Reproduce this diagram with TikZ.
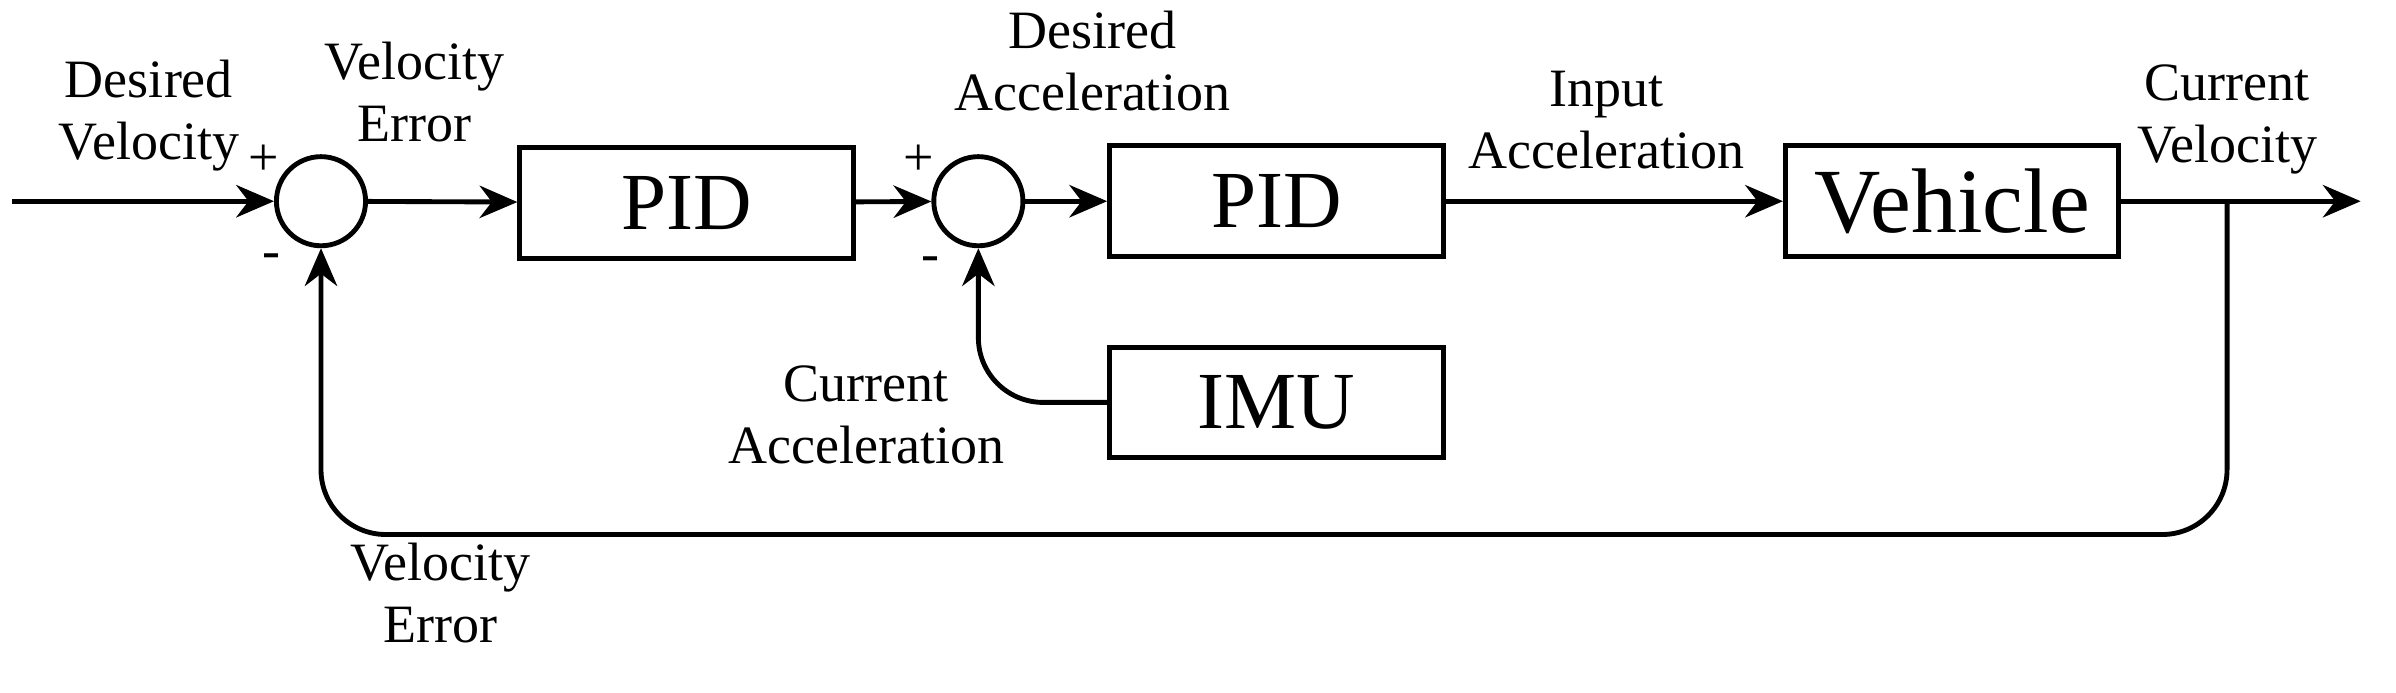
\documentclass[tikz,border=0pt]{standalone}
\usepackage{fontspec}
\setmainfont{Liberation Serif}
\usetikzlibrary{arrows.meta}
\begin{document}
\begin{tikzpicture}[x=0.01cm,y=-0.01cm,
  blk/.style={draw,line width=0.9pt,minimum width=2.17cm,minimum height=0.72cm,inner sep=0pt,font=\fontsize{15}{17}\selectfont},
  sum/.style={draw,circle,line width=0.9pt,minimum size=0.58cm,inner sep=0pt},
  lbl/.style={align=center,font=\fontsize{10}{11.5}\selectfont},
  sgn/.style={font=\fontsize{10}{11}\selectfont},
  ar/.style={line width=0.9pt,-{Stealth[length=7pt,width=6pt]}},
  ln/.style={line width=0.9pt}]
\useasboundingbox (0,0) rectangle (1560,451);
\node[sum] (s1) at (209,131) {};
\node[sum] (s2) at (637,131) {};
\node[blk] (p1) at (447,132) {PID};
\node[blk] (p2) at (831,131) {PID};
\node[blk,font=\fontsize{17}{19}\selectfont] (veh) at (1271,131) {Vehicle};
\node[blk] (imu) at (831,262) {IMU};
\coordinate (in) at (8,131);
\coordinate (out) at (1537,131);
\coordinate (tap) at (1450,131);
\draw[ar] (in) -- (s1);
\draw[ar] (s1) -- (p1);
\draw[ar] (p1) -- (s2);
\draw[ar] (s2) -- (p2);
\draw[ar] (p2) -- (veh);
\draw[ar] (veh) -- (out);
\draw[ar,rounded corners=12] (tap) |- (1000,348) -| (s1.south);
\draw[ar,rounded corners=12] (imu.west) -| (s2.south);
\node[lbl] at (97,75) {Desired\\Velocity};
\node[sgn] at (172,104) {+};
\node[sgn] at (177,170) {-};
\node[lbl] at (270,60) {Velocity\\Error};
\node[sgn] at (598,104) {+};
\node[sgn] at (606,172) {-};
\node[lbl] at (711,40) {Desired\\Acceleration};
\node[lbl] at (1046,78) {Input\\Acceleration};
\node[lbl] at (1450,78) {Current\\Velocity};
\node[lbl] at (564,270) {Current\\Acceleration};
\node[lbl] at (287,386) {Velocity\\Error};
\end{tikzpicture}
\end{document}
